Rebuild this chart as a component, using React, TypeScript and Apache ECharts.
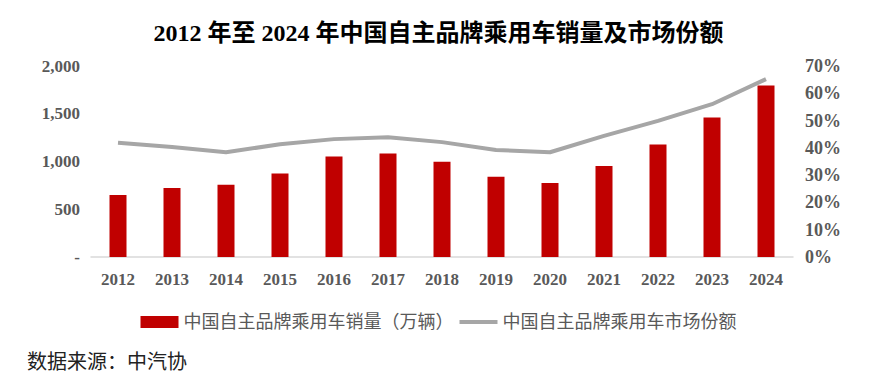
import React, { useEffect, useRef } from "react";
import * as echarts from "echarts";

const years = ["2012", "2013", "2014", "2015", "2016", "2017", "2018", "2019", "2020", "2021", "2022", "2023", "2024"];
const sales = [648, 722, 757, 874, 1053, 1085, 998, 841, 775, 954, 1177, 1460, 1797];
const share = [41.9, 40.3, 38.4, 41.3, 43.2, 43.9, 42.1, 39.2, 38.4, 44.4, 49.9, 56.0, 65.2];
const salesName = "中国自主品牌乘用车销量（万辆）";
const shareName = "中国自主品牌乘用车市场份额";
const titleText = "2012 年至 2024 年中国自主品牌乘用车销量及市场份额";
const sourceText = "数据来源：中汽协";

const FONT = "'Liberation Serif', 'Noto Sans CJK SC', serif";

export default function App() {
  const ref = useRef<HTMLDivElement>(null);
  useEffect(() => {
    if (!ref.current) return;
    const chart = echarts.init(ref.current, null, { renderer: "svg" });
    chart.setOption({
      animation: false,
      backgroundColor: "#fff",
      title: {
        text: titleText,
        left: "center",
        top: 16,
        textStyle: { fontFamily: FONT, fontSize: 24, fontWeight: "bold", color: "#000" },
      },
      graphic: [
        {
          type: "text",
          left: 27,
          top: 352,
          style: { text: sourceText, fontFamily: FONT, fontSize: 20, fill: "#222" },
        },
      ],
      legend: {
        top: 308,
        left: "center",
        itemGap: 6,
        itemWidth: 38,
        itemHeight: 12,
        textStyle: { fontFamily: FONT, fontSize: 18, color: "#595959" },
        data: [
          { name: salesName, icon: "rect" },
          { name: shareName, icon: "path://M0,0 H38 V4 H0 Z" },
        ],
      },
      grid: { left: 91, right: 84, top: 66, height: 191, containLabel: false },
      xAxis: {
        type: "category",
        data: years,
        axisLine: { lineStyle: { color: "#D9D9D9", width: 1.5 } },
        axisTick: { show: false },
        axisLabel: { fontFamily: FONT, fontSize: 17, fontWeight: "bold", color: "#595959", margin: 14 },
      },
      yAxis: [
        {
          type: "value",
          min: 0,
          max: 2000,
          interval: 500,
          splitLine: { show: false },
          axisLine: { show: false },
          axisTick: { show: false },
          axisLabel: {
            fontFamily: FONT,
            fontSize: 17,
            fontWeight: "bold",
            color: "#595959",
            margin: 11,
            formatter: (v: number) => (v === 0 ? "-" : v.toLocaleString("en-US")),
          },
        },
        {
          type: "value",
          min: 0,
          max: 70,
          interval: 10,
          splitLine: { show: false },
          axisLine: { show: false },
          axisTick: { show: false },
          axisLabel: {
            fontFamily: FONT,
            fontSize: 18,
            fontWeight: "bold",
            color: "#595959",
            margin: 12,
            formatter: (v: number) => v + "%",
          },
        },
      ],
      series: [
        {
          name: salesName,
          type: "bar",
          data: sales,
          barWidth: 17,
          itemStyle: { color: "#C00000" },
        },
        {
          name: shareName,
          type: "line",
          yAxisIndex: 1,
          data: share,
          symbol: "none",
          lineStyle: { color: "#A6A6A6", width: 4 },
          itemStyle: { color: "#A6A6A6" },
        },
      ],
    });
    return () => chart.dispose();
  }, []);
  return <div ref={ref} style={{ width: 877, height: 378, position: "absolute", left: 0, top: 0 }} />;
}
